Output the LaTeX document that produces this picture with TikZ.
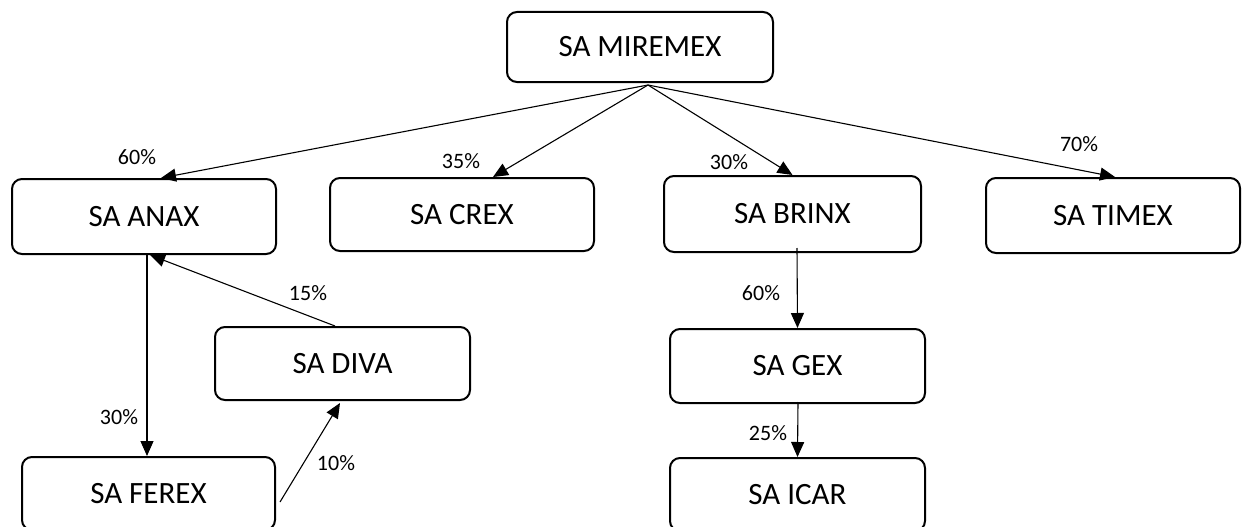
\documentclass[tikz,border=0pt]{standalone}
\usepackage{fontspec}
\setmainfont{Carlito}
\usetikzlibrary{arrows.meta}
\begin{document}
\begin{tikzpicture}[x=1pt,y=-1pt,
  box/.style={draw, line width=2pt, rounded corners=10pt, inner sep=0pt,
    font=\fontsize{31}{36}\selectfont},
  conn/.style={line width=1.1pt, -{Triangle[length=15pt,width=13pt]}},
  pct/.style={font=\fontsize{22}{26}\selectfont, inner sep=0pt}]
\useasboundingbox (0,0) rectangle (1242,527);
\node[box, minimum width=266pt, minimum height=70pt] (mir) at (640,47) {SA MIREMEX};
\node[box, minimum width=264pt, minimum height=75pt] (anax) at (144,216.5) {SA ANAX};
\node[box, minimum width=264pt, minimum height=73pt] (crex) at (462,214.5) {SA CREX};
\node[box, minimum width=257pt, minimum height=76pt] (brinx) at (792.5,214) {SA BRINX};
\node[box, minimum width=254pt, minimum height=75pt] (timex) at (1113,215.5) {SA TIMEX};
\node[box, minimum width=255pt, minimum height=73pt] (diva) at (342.5,363.5) {SA DIVA};
\node[box, minimum width=255pt, minimum height=74pt] (gex) at (797.5,366) {SA GEX};
\node[box, minimum width=253pt, minimum height=73pt] (ferex) at (148.5,493.5) {SA FEREX};
\node[box, minimum width=255pt, minimum height=73pt] (icar) at (797.5,494.5) {SA ICAR};
\coordinate (mo) at ([xshift=8pt,yshift=-2pt]mir.south);
\draw[conn] (mo) -- ([xshift=17pt]anax.north);
\draw[conn] (mo) -- ([xshift=31pt]crex.north);
\draw[conn] (mo) -- ([xshift=0pt]brinx.north);
\draw[conn] (mo) -- ([xshift=2pt]timex.north);
\draw[conn] ([xshift=3pt]anax.south) -- ([xshift=-1.5pt]ferex.north);
\draw[conn] ([xshift=-7.5pt]diva.north) -- ([xshift=6pt]anax.south);
\draw[conn] ([xshift=4pt,yshift=-8.5pt]ferex.east) -- ([xshift=-2.5pt,yshift=-2pt]diva.south);
\draw[conn] ([xshift=4.5pt,yshift=5pt]brinx.south) -- (gex.north);
\draw[conn] ([xshift=0.5pt,yshift=2pt]gex.south) -- (icar.north);
\node[pct] (p1) at (137,157) {60\%};
\node[pct] (p2) at (461,161) {35\%};
\node[pct] (p3) at (729,162) {30\%};
\node[pct] (p4) at (1079,144) {70\%};
\node[pct] (p5) at (308,293) {15\%};
\node[pct] (p6) at (119,417) {30\%};
\node[pct] (p7) at (336,463) {10\%};
\node[pct] (p8) at (761,293) {60\%};
\node[pct] (p9) at (768,433) {25\%};
\end{tikzpicture}
\end{document}
